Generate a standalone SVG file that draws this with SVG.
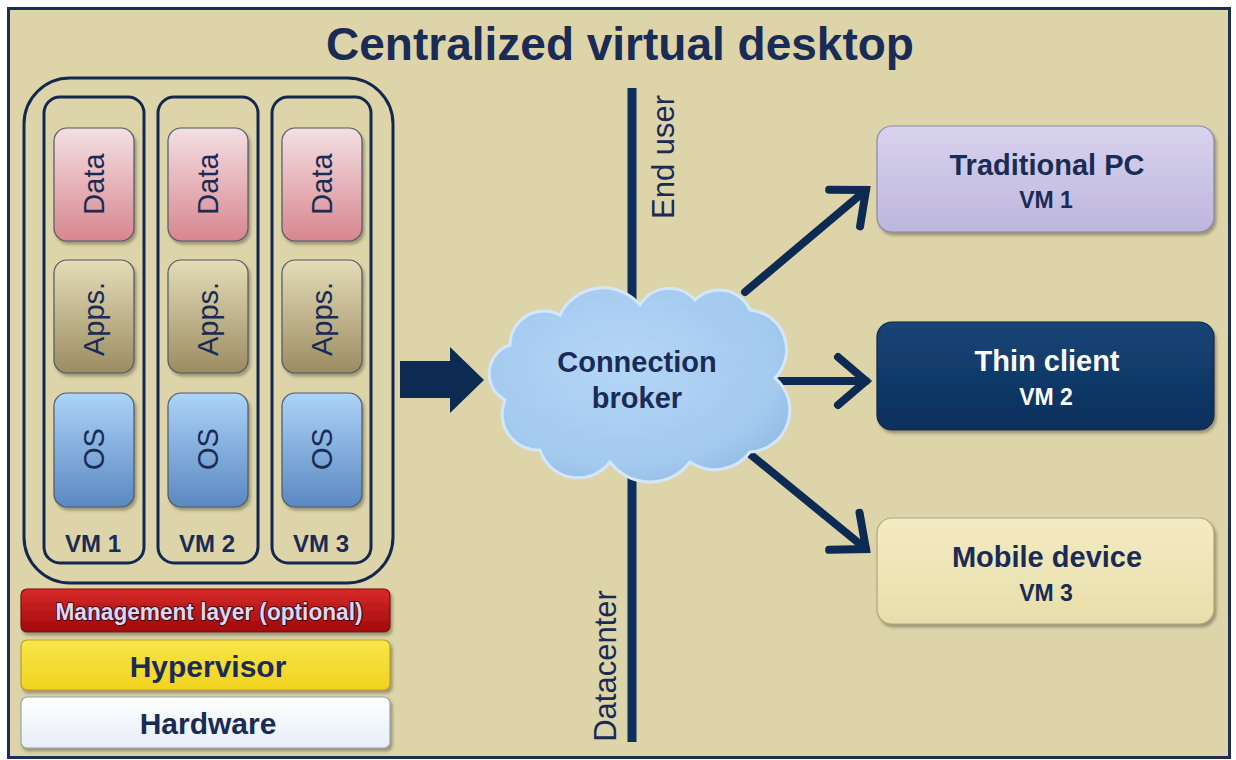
<svg xmlns="http://www.w3.org/2000/svg" width="1236" height="760" viewBox="0 0 1236 760">
<defs>
<linearGradient id="gData" x1="0" y1="0" x2="0" y2="1"><stop offset="0" stop-color="#f3e0e3"/><stop offset="1" stop-color="#d8868f"/></linearGradient>
<linearGradient id="gApps" x1="0" y1="0" x2="0" y2="1"><stop offset="0" stop-color="#e4ddb8"/><stop offset="1" stop-color="#9b8c61"/></linearGradient>
<linearGradient id="gOS" x1="0" y1="0" x2="0" y2="1"><stop offset="0" stop-color="#acd3f8"/><stop offset="1" stop-color="#5b88c1"/></linearGradient>
<linearGradient id="gMgmt" x1="0" y1="0" x2="0" y2="1"><stop offset="0" stop-color="#d82a2a"/><stop offset="1" stop-color="#a10909"/></linearGradient>
<linearGradient id="gHyp" x1="0" y1="0" x2="0" y2="1"><stop offset="0" stop-color="#f9e64a"/><stop offset="1" stop-color="#f1d21e"/></linearGradient>
<linearGradient id="gHw" x1="0" y1="0" x2="0" y2="1"><stop offset="0" stop-color="#ffffff"/><stop offset="1" stop-color="#e6eef8"/></linearGradient>
<linearGradient id="gPC" x1="0" y1="0" x2="0" y2="1"><stop offset="0" stop-color="#d8d3ee"/><stop offset="1" stop-color="#bdb6dc"/></linearGradient>
<linearGradient id="gThin" x1="0" y1="0" x2="0" y2="1"><stop offset="0" stop-color="#174576"/><stop offset="1" stop-color="#0a2f5c"/></linearGradient>
<linearGradient id="gMob" x1="0" y1="0" x2="0" y2="1"><stop offset="0" stop-color="#f3ebc4"/><stop offset="1" stop-color="#e8deaa"/></linearGradient>
<radialGradient id="gCloud" cx="0.45" cy="0.4" r="0.65"><stop offset="0" stop-color="#b4d6f6"/><stop offset="0.8" stop-color="#a4c9ef"/><stop offset="1" stop-color="#92bbe6"/></radialGradient>
<filter id="sh" x="-10%" y="-10%" width="125%" height="130%"><feDropShadow dx="2" dy="3" stdDeviation="1.5" flood-color="#6f6a55" flood-opacity="0.6"/></filter>
<marker id="chev" markerUnits="userSpaceOnUse" viewBox="-40 -30 50 60" markerWidth="50" markerHeight="60" refX="0" refY="0" orient="auto">
<path d="M-28,-24 L0,0 L-28,24" fill="none" stroke="#0c2a52" stroke-width="8" stroke-linecap="round" stroke-linejoin="miter"/>
</marker>
<style>
.t{font-family:"Liberation Sans",Arial,sans-serif;fill:#1a2b55;text-anchor:middle}
.b{font-weight:bold}
.rot{font-size:29px}
.vml{font-size:24px;font-weight:bold}
.sub{font-size:23px;font-weight:bold}
.col{fill:none;stroke:#14284f;stroke-width:3}
.layer{stroke:#4f5a66;stroke-width:1.2}
.conn{fill:none;stroke:#0c2a52;stroke-width:8;stroke-linecap:round}
</style>
</defs>

<rect x="8.5" y="8.5" width="1221" height="749" fill="#ddd5a9" stroke="#1c2e55" stroke-width="3"/>
<text class="t b" x="620" y="60" font-size="46">Centralized virtual desktop</text>

<g id="host">
<rect x="24" y="78" width="369" height="505" rx="46" class="col"/>
</g>

<g id="vm1">
<rect x="44" y="97" width="100" height="466" rx="16" class="col"/>
<rect x="54" y="128" width="80" height="113" rx="13" fill="url(#gData)" class="layer" filter="url(#sh)"/>
<text class="t rot" transform="translate(104,184) rotate(-90)">Data</text>
<rect x="54" y="260" width="80" height="113" rx="13" fill="url(#gApps)" class="layer" filter="url(#sh)"/>
<text class="t rot" transform="translate(104,319) rotate(-90)">Apps.</text>
<rect x="54" y="393" width="80" height="114" rx="13" fill="url(#gOS)" class="layer" filter="url(#sh)"/>
<text class="t rot" transform="translate(104,449) rotate(-90)">OS</text>
<text class="t vml" x="93" y="552">VM 1</text>
</g>

<g id="vm2">
<rect x="158" y="97" width="100" height="466" rx="16" class="col"/>
<rect x="168" y="128" width="80" height="113" rx="13" fill="url(#gData)" class="layer" filter="url(#sh)"/>
<text class="t rot" transform="translate(218,184) rotate(-90)">Data</text>
<rect x="168" y="260" width="80" height="113" rx="13" fill="url(#gApps)" class="layer" filter="url(#sh)"/>
<text class="t rot" transform="translate(218,319) rotate(-90)">Apps.</text>
<rect x="168" y="393" width="80" height="114" rx="13" fill="url(#gOS)" class="layer" filter="url(#sh)"/>
<text class="t rot" transform="translate(218,449) rotate(-90)">OS</text>
<text class="t vml" x="207" y="552">VM 2</text>
</g>

<g id="vm3">
<rect x="272" y="97" width="99" height="466" rx="16" class="col"/>
<rect x="282" y="128" width="80" height="113" rx="13" fill="url(#gData)" class="layer" filter="url(#sh)"/>
<text class="t rot" transform="translate(332,184) rotate(-90)">Data</text>
<rect x="282" y="260" width="80" height="113" rx="13" fill="url(#gApps)" class="layer" filter="url(#sh)"/>
<text class="t rot" transform="translate(332,319) rotate(-90)">Apps.</text>
<rect x="282" y="393" width="80" height="114" rx="13" fill="url(#gOS)" class="layer" filter="url(#sh)"/>
<text class="t rot" transform="translate(332,449) rotate(-90)">OS</text>
<text class="t vml" x="321" y="552">VM 3</text>
</g>

<g id="mgmt">
<rect x="21" y="589" width="369" height="43" rx="6" fill="url(#gMgmt)" stroke="#7a0a0a" stroke-width="1.2" filter="url(#sh)"/>
<text class="t b" x="209" y="620" font-size="24" textLength="307" lengthAdjust="spacingAndGlyphs" style="fill:#dcd8f2;paint-order:stroke" stroke="#4a0a14" stroke-width="2.2" stroke-linejoin="round">Management layer (optional)</text>
</g>

<g id="hypervisor">
<rect x="21" y="640" width="369" height="50" rx="6" fill="url(#gHyp)" stroke="#b79f2a" stroke-width="1.2" filter="url(#sh)"/>
<text class="t b" x="208" y="677" font-size="30">Hypervisor</text>
</g>

<g id="hardware">
<rect x="21" y="697" width="369" height="51" rx="6" fill="url(#gHw)" stroke="#9aa4b0" stroke-width="1.2" filter="url(#sh)"/>
<text class="t b" x="208" y="734" font-size="30">Hardware</text>
</g>

<g id="boundary">
<line x1="632" y1="88" x2="632" y2="742" stroke="#0c2f5f" stroke-width="9"/>
<text class="t" font-size="31" transform="translate(674,157) rotate(-90)">End user</text>
<text class="t" font-size="31" transform="translate(616,666) rotate(-90)">Datacenter</text>
</g>

<g id="connectors">
<path d="M400,361 L450,361 L450,347 L484,380 L450,413 L450,398 L400,398 Z" fill="#0c2a52"/>
<line class="conn" x1="745" y1="292" x2="866" y2="190" marker-end="url(#chev)"/>
<line class="conn" x1="780" y1="381" x2="866" y2="381" marker-end="url(#chev)"/>
<line class="conn" x1="745" y1="450" x2="866" y2="549" marker-end="url(#chev)"/>
</g>

<g id="broker">
<path d="M505,400 A30,30 0 0 1 510,345 A34,34 0 0 1 560,315 A48,48 0 0 1 640,305 A34,34 0 0 1 695,300 A34,34 0 0 1 750,310 A40,40 0 0 1 775,378 A42,42 0 0 1 750,452 A44,44 0 0 1 690,462 A50,50 0 0 1 610,462 A40,40 0 0 1 540,450 A36,36 0 0 1 505,400 Z" fill="url(#gCloud)" stroke="#d3e7fa" stroke-width="3"/>
<text class="t b" x="637" y="372" font-size="29">Connection</text>
<text class="t b" x="637" y="408" font-size="29">broker</text>
</g>

<g id="pc">
<rect x="877" y="126" width="337" height="106" rx="15" fill="url(#gPC)" stroke="#8d88a6" stroke-width="1.2" filter="url(#sh)"/>
<text class="t b" x="1047" y="175" font-size="29">Traditional PC</text>
<text class="t sub" x="1046" y="208">VM 1</text>
</g>

<g id="thin">
<rect x="877" y="322" width="337" height="108" rx="15" fill="url(#gThin)" stroke="#082447" stroke-width="1.2" filter="url(#sh)"/>
<text class="t b" x="1047" y="371" font-size="29" style="fill:#ffffff">Thin client</text>
<text class="t sub" x="1046" y="405" style="fill:#ffffff">VM 2</text>
</g>

<g id="mobile">
<rect x="877" y="518" width="337" height="106" rx="15" fill="url(#gMob)" stroke="#b0a77c" stroke-width="1.2" filter="url(#sh)"/>
<text class="t b" x="1047" y="567" font-size="29">Mobile device</text>
<text class="t sub" x="1046" y="601">VM 3</text>
</g>
</svg>
